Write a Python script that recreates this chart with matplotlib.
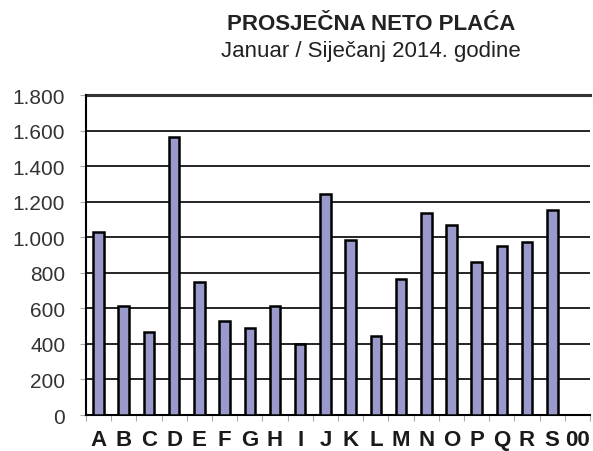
import matplotlib.pyplot as plt
from matplotlib.ticker import FuncFormatter

categories = ['A', 'B', 'C', 'D', 'E', 'F', 'G', 'H', 'I', 'J',
              'K', 'L', 'M', 'N', 'O', 'P', 'Q', 'R', 'S', '00']
values = [1030, 612, 466, 1562, 748, 527, 491, 613, 400, 1245,
          984, 447, 765, 1134, 1070, 862, 949, 975, 1151, 0]
y_ticks = [0, 200, 400, 600, 800, 1000, 1200, 1400, 1600, 1800]

plt.rcParams['font.family'] = ['Liberation Sans', 'DejaVu Sans']

fig = plt.figure(figsize=(5.93, 4.52), dpi=100)
ax = fig.add_axes([0.145, 0.0796, 0.85, 0.708])

x = list(range(len(categories)))
ax.bar(x, values, width=0.42, color='#9999cc', edgecolor='black',
       linewidth=1.8, zorder=3)

ax.set_xlim(-0.5, len(categories) - 0.5)
ax.set_ylim(0, 1800)
ax.set_yticks(y_ticks)
ax.yaxis.set_major_formatter(
    FuncFormatter(lambda v, p: f'{int(v):,}'.replace(',', '.')))
ax.grid(axis='y', color='black', linewidth=1.2, zorder=1)
ax.set_axisbelow(True)

# category labels between boundary ticks
ax.set_xticks([i - 0.5 for i in range(len(categories) + 1)])
ax.set_xticklabels([])
ax.set_xticks(x, minor=True)
ax.set_xticklabels(categories, minor=True, fontsize=16, fontweight='bold',
                   color='#1a1a1a')
ax.tick_params(axis='x', which='major', length=4, color='#aaaaaa')
ax.tick_params(axis='x', which='minor', length=0, pad=10)
ax.tick_params(axis='y', length=4, color='#aaaaaa', labelsize=15,
               labelcolor='#333333', pad=11)

for s in ['top', 'right']:
    ax.spines[s].set_visible(False)
ax.spines['left'].set_linewidth(1.5)
ax.spines['bottom'].set_linewidth(1.5)
ax.axhline(1800, color='#333333', linewidth=2.2, zorder=2, clip_on=False)

fig.text(0.626, 0.9336, 'PROSJEČNA NETO PLAĆA', ha='center', va='baseline',
         fontsize=16, fontweight='bold', color='#222222')
fig.text(0.625, 0.874, 'Januar / Siječanj 2014. godine', ha='center',
         va='baseline', fontsize=16, color='#222222')

fig.savefig('out.png', dpi=100)
